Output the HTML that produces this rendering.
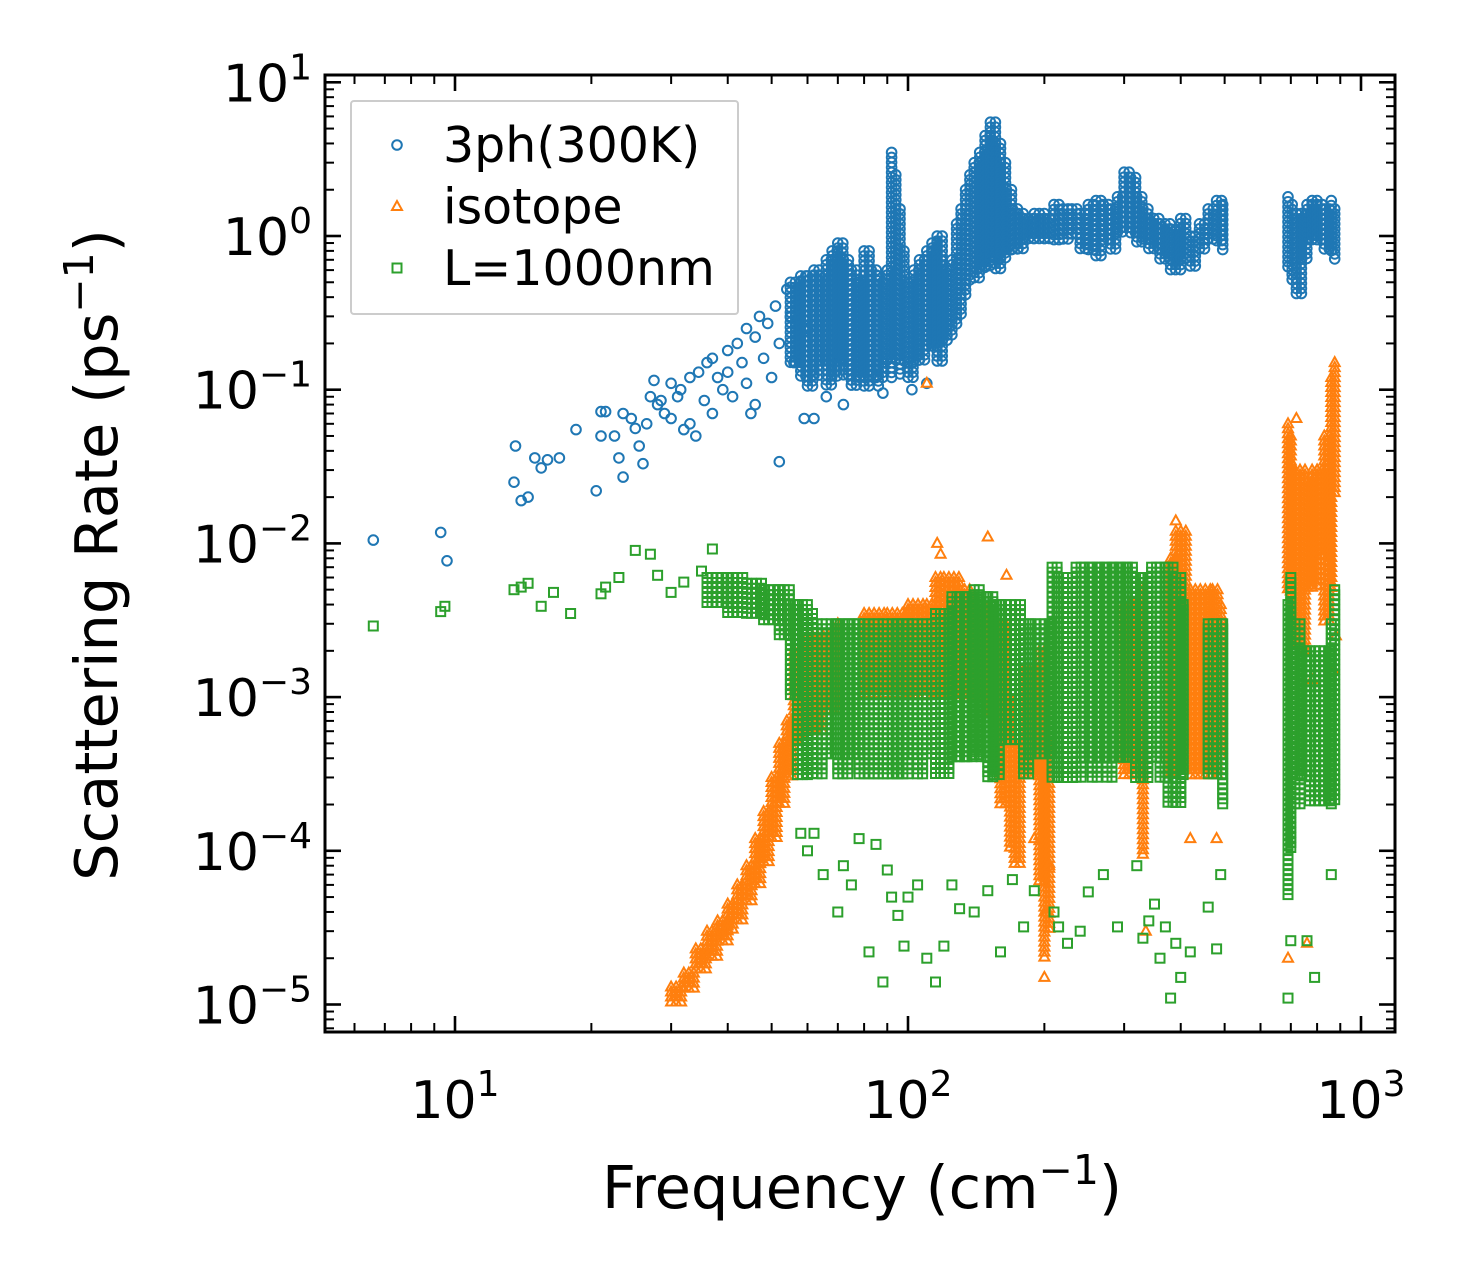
<!DOCTYPE html>
<html><head><meta charset="utf-8"><style>
html,body{margin:0;padding:0;background:#fff;}
svg{display:block;font-family:"DejaVu Sans","Liberation Sans",sans-serif;}
</style></head><body>
<svg id="chart" width="1475" height="1282" viewBox="0 0 1475 1282" xmlns="http://www.w3.org/2000/svg">
<rect width="1475" height="1282" fill="#fff"/>
<g id="marks"></g>
<g id="axes"></g>
<g id="legend"></g>
</svg>
<script>
// ---- data (frequency cm^-1, rate ps^-1) ----
const xTickValues = [10, 100, 1000];
const xTickExps = ["1", "2", "3"];
const yTickValues = [10, 1, 0.1, 0.01, 0.001, 0.0001, 0.00001];
const yTickExps = ["1", "0", "\u22121", "\u22122", "\u22123", "\u22124", "\u22125"];
const seriesNames = ["3ph(300K)", "isotope", "L=1000nm"];

// sparse points
const blueF = [6.6,9.3,9.6,13.6,13.5,14,14.5,15,15.5,16,17,18.5,20.5,21,21.5,21,22.5,23,23.5,23.5,24.5,25,25.5,26,26.5,27,27.5,28,28.5,29,30,30,31,31.5,32,33,33,34,34.5,35.5,36,37,37,38,39,40,40,41,42,43,44,44,45,46,46,47,48,49,50,51,52,52,54,55,56,58,59,60,62,66,72,85,88,102,110];
const blueR = [0.0105,0.0118,0.0077,0.043,0.025,0.019,0.02,0.036,0.031,0.035,0.036,0.055,0.022,0.072,0.072,0.05,0.05,0.036,0.027,0.07,0.065,0.056,0.043,0.033,0.06,0.09,0.115,0.08,0.085,0.07,0.11,0.065,0.09,0.1,0.055,0.12,0.06,0.05,0.13,0.085,0.15,0.16,0.07,0.12,0.1,0.18,0.13,0.09,0.2,0.15,0.25,0.11,0.07,0.08,0.22,0.3,0.16,0.27,0.12,0.35,0.034,0.2,0.45,0.3,0.15,0.5,0.065,0.25,0.065,0.09,0.08,0.12,0.095,0.1,0.11];
const orangeF = [110,116,118,150,165,190,200,202,205,330,335,390,420,480,690,720,760,780,870,880];
const orangeR = [0.11,0.01,0.0085,0.011,0.0062,0.00012,0.000015,0.00004,0.00008,0.000095,0.00003,0.014,0.00012,0.00012,0.00002,0.065,0.000025,0.0013,0.0015,0.0025];
const greenF = [6.6,9.3,9.5,13.5,14,14.5,15.5,16.5,18,21,21.5,23,25,27,28,30,32,35,37,58,60,62,65,70,72,75,78,82,85,88,90,92,95,98,100,105,110,115,120,125,130,140,150,160,170,180,190,210,215,225,240,250,270,290,320,330,340,350,360,370,380,390,400,420,460,480,490,690,700,760,790,860];
const greenR = [0.0029,0.0036,0.0039,0.005,0.0052,0.0055,0.0039,0.0048,0.0035,0.0047,0.0052,0.006,0.009,0.0085,0.0062,0.0048,0.0056,0.0066,0.0092,0.00013,0.0001,0.00013,0.00007,0.00004,0.00008,0.00006,0.00012,0.000022,0.00011,0.000014,0.000075,0.00005,0.000038,0.000024,0.00005,0.00006,0.00002,0.000014,0.000024,0.00006,0.000042,0.00004,0.000055,0.000022,0.000065,0.000032,0.000055,0.00004,0.000032,0.000025,0.00003,0.000054,0.00007,0.000032,0.00008,0.000027,0.000035,0.000045,0.00002,0.000032,0.000011,0.000025,0.000015,0.000022,0.000043,0.000023,0.00007,0.000011,0.000026,0.000026,0.000015,0.00007];

// dense bands: frequency, low rate, high rate
const blueBandF = [55,58,60,62,64,66,68,70,72,75,78,80,83,86,88,90,92,94,96,98,100,103,106,110,113,116,119,122,125,128,131,134,137,140,144,148,152,156,160,165,170,175,180,190,200,210,220,230,240,250,260,270,280,290,300,310,320,330,340,360,380,400,420,440,460,480,495,690,705,720,740,760,780,800,830,860,875];
const blueBandLo = [0.15,0.12,0.1,0.12,0.15,0.1,0.12,0.15,0.12,0.1,0.12,0.1,0.12,0.1,0.12,0.15,0.12,0.15,0.12,0.15,0.12,0.15,0.15,0.18,0.2,0.15,0.2,0.2,0.22,0.25,0.3,0.4,0.5,0.5,0.6,0.6,0.7,0.6,0.7,0.8,0.8,0.8,0.9,0.9,0.9,0.9,0.9,1.0,0.8,0.8,0.7,0.9,0.8,1.0,1.1,1.0,0.9,0.9,0.8,0.7,0.6,0.7,0.6,0.8,0.9,0.9,0.8,0.6,0.5,0.4,0.7,0.9,1.0,0.9,0.8,0.8,0.7];
const blueBandHi = [0.5,0.55,0.55,0.6,0.55,0.7,0.8,0.9,0.7,0.6,0.5,0.8,0.6,0.55,0.5,0.6,3.5,2.5,1.5,0.8,0.5,0.6,0.7,0.8,0.9,1.0,0.7,0.6,0.7,1.2,1.5,2.0,2.5,3.0,3.5,4.5,5.5,4.0,3.0,2.0,1.5,1.4,1.3,1.4,1.3,1.6,1.5,1.5,1.4,1.6,1.7,1.6,1.5,1.8,2.6,2.4,1.8,1.5,1.3,1.2,1.1,1.3,1.0,1.2,1.5,1.7,1.6,1.8,1.6,1.4,1.3,1.6,1.7,1.6,1.5,1.7,1.5];
const orangeBandF = [30,32,34,36,38,40,42,44,46,48,50,52,54,56,60,65,70,80,90,100,110,115,120,130,140,150,160,168,172,180,195,200,205,300,330,380,390,420,470,490,690,700,715,760,780,800,830,860,875];
const orangeBandLo = [1e-5,1.2e-5,1.6e-5,2e-5,2.5e-5,3e-5,3.5e-5,4.5e-5,6e-5,8e-5,1.2e-4,2e-4,3e-4,5e-4,6e-4,8e-4,8e-4,1e-3,1e-3,1e-3,1e-3,1e-3,1e-3,1e-3,1e-3,7e-4,2e-4,1e-4,8e-5,3e-4,6e-5,2e-5,3e-5,3e-4,1e-4,3e-4,5e-4,3e-4,3e-4,4e-4,5e-3,3e-3,2e-3,5e-3,5e-3,8e-3,3e-3,5e-3,2e-2];
const orangeBandHi = [1.3e-5,1.6e-5,2.3e-5,3e-5,3.5e-5,4.5e-5,6e-5,8e-5,1.2e-4,1.8e-4,3e-4,5e-4,7e-4,2e-3,2.5e-3,2.5e-3,3e-3,3.5e-3,3.5e-3,4e-3,4e-3,6e-3,6e-3,5e-3,4e-3,3e-3,3e-3,1e-3,5e-4,1.5e-3,2e-3,1e-3,5e-4,4e-3,5e-3,8e-3,1.2e-2,5e-3,5e-3,4e-3,6e-2,5e-2,3e-2,2.5e-2,3e-2,3e-2,5e-2,1.2e-1,1.5e-1];
const greenBandF = [36,40,44,48,52,55,57,60,63,66,70,74,78,82,86,90,95,100,105,110,115,120,125,130,135,140,145,150,155,160,180,186,208,215,225,235,245,255,265,275,285,295,305,318,330,345,360,375,390,405,460,480,495,690,700,715,740,770,860,875];
const greenBandLo = [4e-3,3.5e-3,3.5e-3,3e-3,2.5e-3,1e-3,3e-4,3e-4,3e-4,4e-4,3e-4,4e-4,3e-4,3e-4,3e-4,3e-4,3e-4,4e-4,3e-4,4e-4,3e-4,3e-4,4e-4,4e-4,4e-4,4e-4,4e-4,3e-4,3e-4,5e-4,3e-4,4e-4,3e-4,3e-4,3e-4,3e-4,4e-4,3e-4,4e-4,3e-4,4e-4,4e-4,4e-4,3e-4,3e-4,4e-4,3e-4,2e-4,2e-4,3e-4,3e-4,3e-4,2e-4,5e-5,1e-4,2e-4,3e-4,2e-4,2e-4,2e-4];
const greenBandHi = [6e-3,6e-3,5.5e-3,5e-3,5e-3,4e-3,4e-3,3.5e-3,3e-3,3e-3,3e-3,3e-3,3e-3,3e-3,3e-3,3e-3,3e-3,3e-3,3e-3,3e-3,3.5e-3,3.5e-3,4.5e-3,4.5e-3,4.5e-3,5e-3,4.5e-3,4.5e-3,4e-3,4e-3,3e-3,3e-3,7e-3,6e-3,6e-3,7e-3,7e-3,7e-3,7e-3,7e-3,7e-3,7e-3,7e-3,6e-3,6e-3,7e-3,7e-3,7e-3,6e-3,4e-3,3e-3,3e-3,3e-3,4e-3,6e-3,3e-3,2e-3,2e-3,3e-3,5e-3];

// ---- axis functions ----
const X0 = 325, X1 = 1395, Y0 = 75, Y1 = 1032;
const xDec = 453, x10 = 455;
const yDec = 153.7, y1 = 236;
function xs(f){ return x10 + (Math.log10(f) - 1) * xDec; }
function ys(r){ return y1 - Math.log10(r) * yDec; }

const NS = "http://www.w3.org/2000/svg";
const marks = document.getElementById('marks');
const COLORS = ["#1f77b4", "#ff7f0e", "#2ca02c"];

function marker(kind, x, y, parent){
  let el;
  if(kind === 0){
    el = document.createElementNS(NS,'circle');
    el.setAttribute('cx', x.toFixed(1)); el.setAttribute('cy', y.toFixed(1)); el.setAttribute('r', 4.8);
  } else if(kind === 1){
    el = document.createElementNS(NS,'polygon');
    el.setAttribute('points', `${(x).toFixed(1)},${(y-5.5).toFixed(1)} ${(x-5).toFixed(1)},${(y+3.5).toFixed(1)} ${(x+5).toFixed(1)},${(y+3.5).toFixed(1)}`);
  } else {
    el = document.createElementNS(NS,'rect');
    el.setAttribute('x', (x-4.5).toFixed(1)); el.setAttribute('y', (y-4.5).toFixed(1));
    el.setAttribute('width', 9); el.setAttribute('height', 9);
  }
  el.setAttribute('fill','none');
  el.setAttribute('stroke', COLORS[kind]);
  el.setAttribute('stroke-width', 2);
  
  
  parent.appendChild(el);
}

function drawSeries(kind, F, R, BF, BL, BH){
  const g = document.createElementNS(NS,'g');
  
  
  marks.appendChild(g);
  for(let i=0;i<BF.length;i++){
    const xa = xs(BF[i]);
    let xb = xa;
    if(i+1 < BF.length && BF[i+1] < BF[i]*1.13) xb = xs(BF[i+1]);
    const ya = ys(BH[i]), yb = ys(BL[i]);
    for(let x=xa; x<=xb+0.1; x+=5){
      for(let y=ya; y<=yb+0.1; y+=5){
        marker(kind, x, y, g);
      }
    }
  }
  for(let i=0;i<F.length;i++) marker(kind, xs(F[i]), ys(R[i]), g);
}
drawSeries(0, blueF, blueR, blueBandF, blueBandLo, blueBandHi);
drawSeries(1, orangeF, orangeR, orangeBandF, orangeBandLo, orangeBandHi);
drawSeries(2, greenF, greenR, greenBandF, greenBandLo, greenBandHi);

// ---- axes ----
const axes = document.getElementById('axes');
function line(x1,y1_,x2,y2,w,name){
  const l = document.createElementNS(NS,'line');
  l.setAttribute('x1',x1); l.setAttribute('y1',y1_); l.setAttribute('x2',x2); l.setAttribute('y2',y2);
  l.setAttribute('stroke','#000'); l.setAttribute('stroke-width',w);
  
  
  axes.appendChild(l);
}
const frame = document.createElementNS(NS,'rect');
frame.setAttribute('x',X0); frame.setAttribute('y',Y0); frame.setAttribute('width',X1-X0); frame.setAttribute('height',Y1-Y0);
frame.setAttribute('fill','none'); frame.setAttribute('stroke','#000'); frame.setAttribute('stroke-width',3);


axes.appendChild(frame);

for(let d=0; d<=3; d++){
  for(let m=1; m<=9; m++){
    const v = Math.pow(10,d)*m;
    const x = xs(v);
    if(x < X0+1 || x > X1-1) continue;
    const len = m===1 ? 16 : 9, w = m===1 ? 2.6 : 2;
    line(x,Y1,x,Y1-len,w,'x-tick');
    line(x,Y0,x,Y0+len,w,'x-tick-top');
  }
}
for(let d=-6; d<=1; d++){
  for(let m=1; m<=9; m++){
    const v = Math.pow(10,d)*m;
    const y = ys(v);
    if(y < Y0+1 || y > Y1-1) continue;
    const len = m===1 ? 16 : 9, w = m===1 ? 2.6 : 2;
    line(X0,y,X0+len,y,w,'y-tick');
    line(X1,y,X1-len,y,w,'y-tick-right');
  }
}
function powLabel(x,y,exp,anchor,name){
  const t = document.createElementNS(NS,'text');
  t.setAttribute('x',x); t.setAttribute('y',y); t.setAttribute('text-anchor',anchor);
  t.setAttribute('font-size',52);
  
  
  t.innerHTML = `10<tspan dy="-22" font-size="36">${exp}</tspan>`;
  axes.appendChild(t);
}
xTickValues.forEach((v,i)=>powLabel(xs(v), 1118, xTickExps[i], 'middle', 'x-tick-label'));
yTickValues.forEach((v,i)=>powLabel(312, ys(v)+19, yTickExps[i], 'end', 'y-tick-label'));

const xt = document.createElementNS(NS,'text');
xt.setAttribute('x',862); xt.setAttribute('y',1208); xt.setAttribute('text-anchor','middle'); xt.setAttribute('font-size',59);


xt.innerHTML = 'Frequency (cm<tspan dy="-24" font-size="41">\u22121</tspan><tspan dy="24">)</tspan>';
axes.appendChild(xt);
const yt = document.createElementNS(NS,'text');
yt.setAttribute('transform','translate(117,555) rotate(-90)'); yt.setAttribute('text-anchor','middle'); yt.setAttribute('font-size',59);


yt.innerHTML = 'Scattering Rate (ps<tspan dy="-24" font-size="41">\u22121</tspan><tspan dy="24">)</tspan>';
axes.appendChild(yt);

// ---- legend ----
const lg = document.getElementById('legend');
const box = document.createElementNS(NS,'rect');
box.setAttribute('x',351); box.setAttribute('y',101); box.setAttribute('width',387); box.setAttribute('height',213); box.setAttribute('rx',3);
box.setAttribute('fill','#fff'); box.setAttribute('fill-opacity','0.8'); box.setAttribute('stroke','#ccc'); box.setAttribute('stroke-width',2);


lg.appendChild(box);
seriesNames.forEach((n,i)=>{
  const y = 145 + i*61.5;
  const g = document.createElementNS(NS,'g');
  
  
  lg.appendChild(g);
  marker(i, 397, y, g);
  const t = document.createElementNS(NS,'text');
  t.setAttribute('x',443); t.setAttribute('y',y+17); t.setAttribute('font-size',49);
  
  
  t.textContent = n;
  g.appendChild(t);
});
</script>
</body></html>
